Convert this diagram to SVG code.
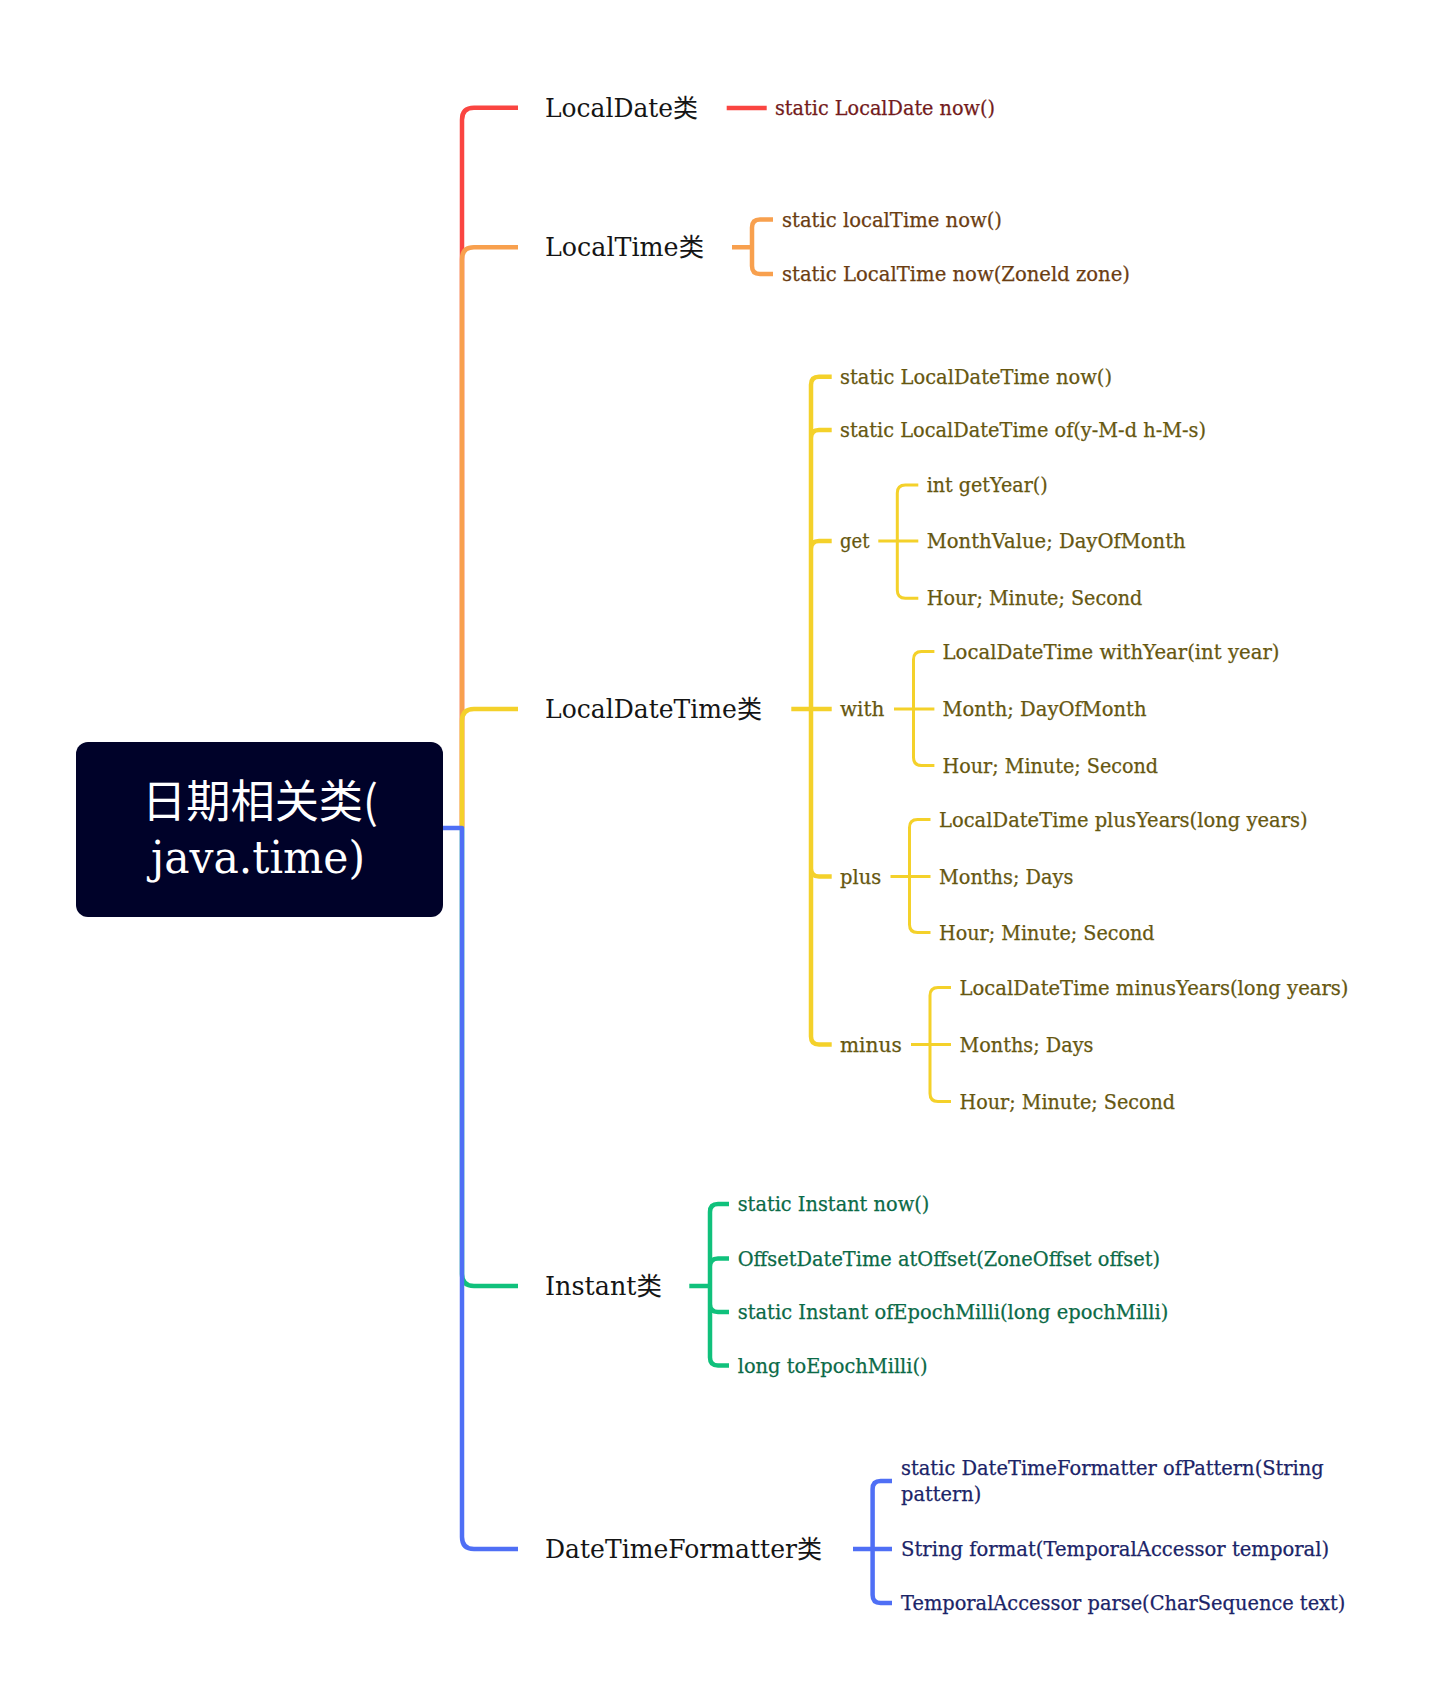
<svg xmlns="http://www.w3.org/2000/svg" width="1435" height="1701" viewBox="0 0 1435 1701">
<style>
text{font-family:"DejaVu Serif","Noto Sans CJK SC",serif}
.node{font-size:25.5px;fill:#151515}
.leaf{font-size:20.5px;stroke-width:0.25}
.c1{fill:#731b1b;stroke:#731b1b}.c2{fill:#6b3d12;stroke:#6b3d12}.c3{fill:#665710;stroke:#665710}.c4{fill:#0b6a47;stroke:#0b6a47}.c5{fill:#1b2468;stroke:#1b2468}
.ln{fill:none;stroke-linecap:butt;stroke-linejoin:round}
.w1{stroke-width:4.5}.w2{stroke-width:3}
.red{stroke:#fa4541}.org{stroke:#f8a04e}.yel{stroke:#f4d12a}.grn{stroke:#10c17c}.blu{stroke:#4f6ff5}
</style>
<rect width="1435" height="1701" fill="#ffffff"/>
<g id="connectors">
<path class="ln w1 red" d="M462 828 V119.7 Q462 107.7 474 107.7 H518"/>
<path class="ln w1 org" d="M462 828 V259.3 Q462 247.3 474 247.3 H518"/>
<path class="ln w1 yel" d="M462 828 V721 Q462 709 474 709 H518"/>
<path class="ln w1 grn" d="M462 828 V1274 Q462 1286 474 1286 H518"/>
<path class="ln w1 blu" d="M443 828 H462 V1537 Q462 1549 474 1549 H518"/>
<path class="ln w1 red" d="M726.7 108 H766.7"/>
<path class="ln w1 org" d="M732 247.3 H752 M752 247.3 V227.5 Q752 219.5 760 219.5 H773 M752 247.3 V266 Q752 274 760 274 H773"/>
<path class="ln w1 yel" d="M791.3 709 H831.7 M811 709 V384.7 Q811 376.7 819 376.7 H831.7 M811 709 V438 Q811 430 819 430 H831.7 M811 709 V549 Q811 541 819 541 H831.7 M811 709 V868.5 Q811 876.5 819 876.5 H831.7 M811 709 V1036.5 Q811 1044.5 819 1044.5 H831.7"/>
<path class="ln w2 yel" d="M878.3 541 H918.3 M897.3 541 V493 Q897.3 485 905.3 485 H918.3 M897.3 541 V590.3 Q897.3 598.3 905.3 598.3 H918.3"/>
<path class="ln w2 yel" d="M894 709 H934.4 M913.5 709 V659.5 Q913.5 651.5 921.5 651.5 H934.4 M913.5 709 V757.5 Q913.5 765.5 921.5 765.5 H934.4"/>
<path class="ln w2 yel" d="M890.5 876.5 H930.5 M909.5 876.5 V827.5 Q909.5 819.5 917.5 819.5 H930.5 M909.5 876.5 V924.5 Q909.5 932.5 917.5 932.5 H930.5"/>
<path class="ln w2 yel" d="M911 1044.5 H951 M930 1044.5 V995.5 Q930 987.5 938 987.5 H951 M930 1044.5 V1093.5 Q930 1101.5 938 1101.5 H951"/>
<path class="ln w1 grn" d="M689.3 1286 H710 M710 1286 V1212 Q710 1204 718 1204 H729 M710 1286 V1266.5 Q710 1258.5 718 1258.5 H729 M710 1286 V1304 Q710 1312 718 1312 H729 M710 1286 V1357.5 Q710 1365.5 718 1365.5 H729"/>
<path class="ln w1 blu" d="M853 1549 H892 M872.6 1549 V1489 Q872.6 1481 880.6 1481 H892 M872.6 1549 V1595 Q872.6 1603 880.6 1603 H892"/>
</g>
<g id="root">
<rect x="76" y="742" width="367" height="175" rx="12" fill="#000229"/>
<text x="142" y="818" font-size="45" fill="#ffffff" style="font-family:'Noto Sans CJK SC','DejaVu Sans',sans-serif" textLength="236" lengthAdjust="spacingAndGlyphs">日期相关类(</text>
<text x="151" y="873" font-size="44" fill="#ffffff" textLength="214" lengthAdjust="spacingAndGlyphs">java.time)</text>
</g>
<g id="n-localdate">
<text class="node" x="545" y="116.5" textLength="153" lengthAdjust="spacingAndGlyphs">LocalDate类</text>
</g>
<g id="n-localdate-now">
<text class="leaf c1" x="775" y="115" textLength="220" lengthAdjust="spacingAndGlyphs">static LocalDate now()</text>
</g>
<g id="n-localtime">
<text class="node" x="545" y="256" textLength="159" lengthAdjust="spacingAndGlyphs">LocalTime类</text>
</g>
<g id="n-localtime-children">
<text class="leaf c2" x="782" y="226.5" textLength="220" lengthAdjust="spacingAndGlyphs">static localTime now()</text>
<text class="leaf c2" x="782" y="281" textLength="348" lengthAdjust="spacingAndGlyphs">static LocalTime now(Zoneld zone)</text>
</g>
<g id="n-localdatetime">
<text class="node" x="545" y="717.5" textLength="217" lengthAdjust="spacingAndGlyphs">LocalDateTime类</text>
</g>
<g id="n-ldt-children">
<text class="leaf c3" x="840" y="383.7" textLength="272" lengthAdjust="spacingAndGlyphs">static LocalDateTime now()</text>
<text class="leaf c3" x="840" y="437" textLength="366" lengthAdjust="spacingAndGlyphs">static LocalDateTime of(y-M-d h-M-s)</text>
</g>
<g id="n-get">
<text class="leaf c3" x="840" y="548" textLength="29.5" lengthAdjust="spacingAndGlyphs">get</text>
<text class="leaf c3" x="926.7" y="492" textLength="121" lengthAdjust="spacingAndGlyphs">int getYear()</text>
<text class="leaf c3" x="926.7" y="548" textLength="259" lengthAdjust="spacingAndGlyphs">MonthValue; DayOfMonth</text>
<text class="leaf c3" x="926.7" y="605.3" textLength="215.6" lengthAdjust="spacingAndGlyphs">Hour; Minute; Second</text>
</g>
<g id="n-with">
<text class="leaf c3" x="840" y="716" textLength="44.4" lengthAdjust="spacingAndGlyphs">with</text>
<text class="leaf c3" x="942.5" y="658.5" textLength="337" lengthAdjust="spacingAndGlyphs">LocalDateTime withYear(int year)</text>
<text class="leaf c3" x="942.5" y="716" textLength="204" lengthAdjust="spacingAndGlyphs">Month; DayOfMonth</text>
<text class="leaf c3" x="942.5" y="772.5" textLength="215.6" lengthAdjust="spacingAndGlyphs">Hour; Minute; Second</text>
</g>
<g id="n-plus">
<text class="leaf c3" x="840" y="883.5" textLength="41.2" lengthAdjust="spacingAndGlyphs">plus</text>
<text class="leaf c3" x="939" y="826.5" textLength="368.6" lengthAdjust="spacingAndGlyphs">LocalDateTime plusYears(long years)</text>
<text class="leaf c3" x="939" y="883.5" textLength="134.4" lengthAdjust="spacingAndGlyphs">Months; Days</text>
<text class="leaf c3" x="939" y="939.5" textLength="215.6" lengthAdjust="spacingAndGlyphs">Hour; Minute; Second</text>
</g>
<g id="n-minus">
<text class="leaf c3" x="840" y="1051.5" textLength="61.8" lengthAdjust="spacingAndGlyphs">minus</text>
<text class="leaf c3" x="959.5" y="994.5" textLength="389" lengthAdjust="spacingAndGlyphs">LocalDateTime minusYears(long years)</text>
<text class="leaf c3" x="959.5" y="1051.5" textLength="134" lengthAdjust="spacingAndGlyphs">Months; Days</text>
<text class="leaf c3" x="959.5" y="1108.5" textLength="215.6" lengthAdjust="spacingAndGlyphs">Hour; Minute; Second</text>
</g>
<g id="n-instant">
<text class="node" x="545" y="1294.5" textLength="117" lengthAdjust="spacingAndGlyphs">Instant类</text>
</g>
<g id="n-instant-children">
<text class="leaf c4" x="737.7" y="1211" textLength="191.6" lengthAdjust="spacingAndGlyphs">static Instant now()</text>
<text class="leaf c4" x="737.7" y="1265.5" textLength="422.3" lengthAdjust="spacingAndGlyphs">OffsetDateTime atOffset(ZoneOffset offset)</text>
<text class="leaf c4" x="737.7" y="1319" textLength="430.6" lengthAdjust="spacingAndGlyphs">static Instant ofEpochMilli(long epochMilli)</text>
<text class="leaf c4" x="737.7" y="1372.5" textLength="190" lengthAdjust="spacingAndGlyphs">long toEpochMilli()</text>
</g>
<g id="n-dtf">
<text class="node" x="545" y="1557.5" textLength="277" lengthAdjust="spacingAndGlyphs">DateTimeFormatter类</text>
</g>
<g id="n-dtf-children">
<text class="leaf c5" x="901" y="1474.5" textLength="422.8" lengthAdjust="spacingAndGlyphs">static DateTimeFormatter ofPattern(String</text>
<text class="leaf c5" x="901" y="1500.5" textLength="80.2" lengthAdjust="spacingAndGlyphs">pattern)</text>
<text class="leaf c5" x="901" y="1556" textLength="428.2" lengthAdjust="spacingAndGlyphs">String format(TemporalAccessor temporal)</text>
<text class="leaf c5" x="901" y="1610" textLength="444.4" lengthAdjust="spacingAndGlyphs">TemporalAccessor parse(CharSequence text)</text>
</g>
</svg>
